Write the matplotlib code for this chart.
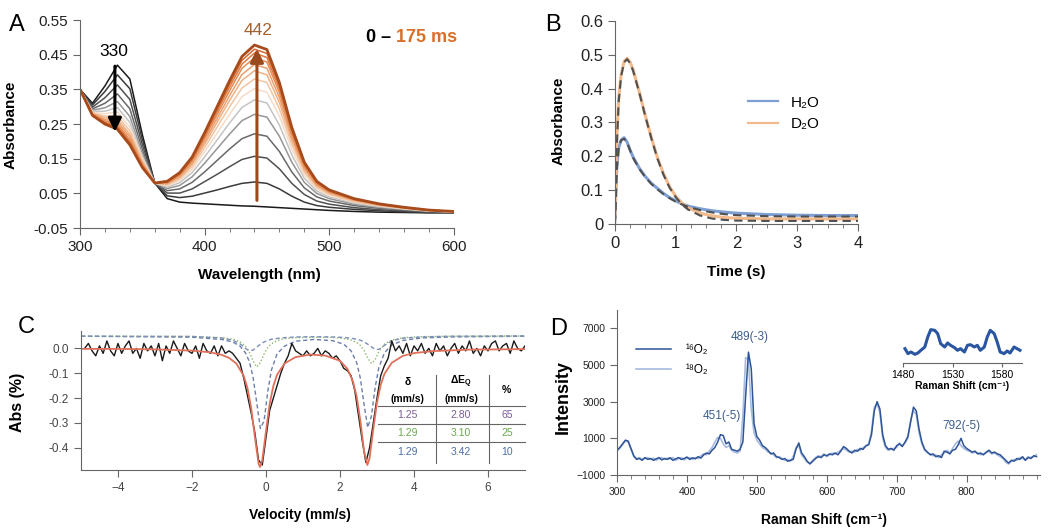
import numpy as np
import matplotlib
matplotlib.use('Agg')
import matplotlib.pyplot as plt
from matplotlib.ticker import MultipleLocator

plt.rcParams['font.family'] = ['Liberation Sans', 'DejaVu Sans']
plt.rcParams['mathtext.fontset'] = 'custom'
plt.rcParams['mathtext.rm'] = 'Liberation Sans'
plt.rcParams['mathtext.bf'] = 'Liberation Sans:bold'

# ---------------- A: UV-vis spectra 0-175 ms ----------------
wavelength = [300, 310, 320, 330, 340, 350, 360, 370, 380, 390, 400, 410, 420,
              430, 440, 450, 460, 470, 480, 490, 500, 520, 540, 560, 580, 600]
spectra = [
    [.350, .310, .360, .420, .380, .220, .080, .035, .025, .022, .020, .018, .016, .014, .013, .011, .009, .007, .005, .003, .001, -.002, -.004, -.005, -.006, -.006],
    [.350, .305, .344, .392, .352, .206, .080, .043, .038, .042, .051, .060, .070, .079, .083, .079, .063, .042, .025, .015, .010, .004, .000, -.003, -.005, -.005],
    [.350, .299, .326, .363, .321, .191, .080, .051, .051, .063, .084, .105, .127, .148, .157, .152, .121, .079, .047, .028, .019, .009, .003, .000, -.004, -.005],
    [.350, .294, .310, .337, .294, .177, .080, .058, .063, .082, .112, .145, .178, .208, .222, .215, .171, .112, .066, .040, .028, .015, .007, .002, -.002, -.004],
    [.350, .290, .297, .315, .272, .166, .080, .064, .073, .098, .137, .179, .221, .260, .278, .270, .215, .140, .082, .050, .035, .019, .010, .004, -.001, -.004],
    [.350, .287, .287, .298, .255, .157, .080, .068, .081, .110, .155, .204, .253, .298, .320, .311, .247, .161, .094, .057, .040, .022, .012, .005, -.001, -.003],
    [.350, .284, .280, .285, .241, .151, .080, .072, .087, .119, .170, .224, .278, .329, .352, .342, .273, .177, .104, .063, .044, .025, .014, .006, .000, -.003],
    [.350, .282, .273, .274, .230, .145, .080, .075, .092, .127, .182, .241, .300, .354, .380, .370, .294, .191, .112, .068, .048, .027, .015, .007, .000, -.003],
    [.350, .281, .268, .265, .220, .140, .080, .077, .096, .134, .192, .255, .318, .376, .404, .392, .312, .203, .118, .072, .051, .029, .016, .008, .001, -.003],
    [.350, .279, .263, .257, .213, .136, .080, .079, .100, .139, .200, .266, .332, .393, .422, .411, .327, .212, .124, .075, .053, .031, .017, .008, .001, -.002],
    [.350, .278, .259, .250, .205, .133, .080, .081, .103, .144, .209, .277, .346, .411, .441, .429, .341, .221, .129, .078, .055, .032, .018, .009, .001, -.002],
    [.350, .277, .255, .244, .199, .130, .080, .083, .106, .148, .215, .286, .357, .423, .455, .442, .352, .228, .133, .081, .057, .033, .019, .009, .002, -.002],
    [.350, .276, .253, .240, .195, .127, .080, .084, .108, .152, .220, .293, .366, .434, .466, .454, .361, .234, .137, .083, .059, .034, .019, .010, .002, -.002],
    [.350, .275, .250, .235, .190, .125, .080, .085, .110, .155, .225, .300, .375, .445, .478, .465, .370, .240, .140, .085, .060, .035, .020, .010, .002, -.002],
]
spectra_colors = ['#1a1a1a', '#3a3a3a', '#505050', '#686868', '#969696', '#c4c4c4',
                  '#f5dcc8', '#f2c5a2', '#efb185', '#eb9f6c', '#e58c54', '#de7a40',
                  '#d26a30', '#a84b1c']

# ---------------- B: kinetics at 442 nm ----------------
time_s = [0, 0.03, 0.06, 0.1, 0.15, 0.2, 0.25, 0.3, 0.4, 0.5, 0.6, 0.7, 0.8, 0.9,
          1.0, 1.1, 1.2, 1.4, 1.6, 1.8, 2.0, 2.5, 3.0, 3.5, 4.0]
h2o = [0.02, 0.17, 0.225, 0.248, 0.255, 0.242, 0.218, 0.197, 0.165, 0.14, 0.12, 0.105, 0.09,
       0.078, 0.068, 0.06, 0.053, 0.045, 0.039, 0.035, 0.032, 0.028, 0.026, 0.025, 0.025]
h2o_fit = [0.0, 0.16, 0.222, 0.247, 0.252, 0.24, 0.217, 0.195, 0.163, 0.138, 0.118, 0.102, 0.088,
           0.076, 0.066, 0.058, 0.051, 0.041, 0.034, 0.029, 0.026, 0.023, 0.022, 0.022, 0.022]
d2o = [0.02, 0.25, 0.37, 0.44, 0.48, 0.49, 0.478, 0.455, 0.39, 0.32, 0.255, 0.195, 0.148,
       0.11, 0.082, 0.062, 0.048, 0.032, 0.024, 0.019, 0.017, 0.015, 0.015, 0.015, 0.015]
d2o_fit = [0.0, 0.23, 0.36, 0.435, 0.478, 0.487, 0.475, 0.452, 0.388, 0.318, 0.252, 0.193, 0.145,
           0.107, 0.079, 0.058, 0.043, 0.025, 0.016, 0.012, 0.010, 0.009, 0.009, 0.009, 0.009]

# ---------------- C: Mossbauer ----------------
vel_start, vel_stop = -4.9, 7.0
moss_data = [
    0.00, 0.02, -0.01, -0.03, 0.01, -0.02, 0.03, -0.01, -0.03, 0.02,
    -0.02, 0.01, 0.03, -0.02, 0.00, -0.04, 0.02, -0.01, 0.01, -0.03,
    0.02, -0.05, 0.01, -0.02, 0.03, 0.00, -0.03, 0.02, -0.01, -0.02,
    0.01, -0.04, 0.02, -0.01, -0.02, 0.01, -0.03, 0.01, -0.02, -0.01,
    -0.02, -0.04, -0.06, -0.12, -0.19, -0.26, -0.34, -0.45, -0.47, -0.36,
    -0.25, -0.20, -0.15, -0.10, -0.06, -0.03, 0.02, -0.01, -0.02, -0.03,
    -0.01, -0.03, -0.02, 0.00, -0.03, -0.01, -0.02, -0.04, -0.03, -0.05,
    -0.08, -0.09, -0.11, -0.17, -0.27, -0.37, -0.46, -0.40, -0.30, -0.20,
    -0.11, -0.07, -0.04, 0.03, -0.01, 0.01, -0.02, 0.02, -0.03, 0.01,
    -0.01, 0.02, -0.02, 0.00, -0.03, 0.02, -0.01, 0.01, -0.03, 0.00,
    0.02, -0.02, 0.01, -0.01, 0.03, -0.02, 0.00, -0.03, 0.01, -0.01,
    0.02, 0.03, -0.01, 0.01, 0.02, -0.02, 0.03, 0.00, -0.01, 0.01,
]
vel_fit = [-5, -4, -3, -2, -1.5, -1.2, -1.0, -0.8, -0.6, -0.5, -0.4, -0.3, -0.2, -0.16, -0.1,
           0.0, 0.1, 0.2, 0.3, 0.5, 0.8, 1.2, 1.6, 2.0, 2.2, 2.35, 2.45, 2.55, 2.65, 2.74,
           2.8, 2.9, 3.0, 3.1, 3.2, 3.4, 3.7, 4.0, 4.5, 5.5, 7.0]
fit_total = [-0.002, -0.002, -0.004, -0.009, -0.016, -0.026, -0.038, -0.061, -0.111, -0.160,
             -0.240, -0.357, -0.465, -0.478, -0.450, -0.334, -0.223, -0.151, -0.106, -0.061,
             -0.035, -0.025, -0.029, -0.050, -0.082, -0.133, -0.193, -0.291, -0.413, -0.470,
             -0.442, -0.326, -0.218, -0.147, -0.103, -0.058, -0.030, -0.019, -0.011, -0.005, -0.003]
vel_comp = [-5, -2, -1.2, -0.9, -0.7, -0.55, -0.45, -0.35, -0.25, -0.15, -0.05, 0.05, 0.15,
            0.3, 0.5, 0.8, 1.3, 1.8, 2.1, 2.3, 2.45, 2.55, 2.65, 2.75, 2.85, 2.95, 3.05,
            3.2, 3.4, 3.7, 4.2, 5, 7]
comp1 = [0.049, 0.045, 0.036, 0.026, 0.009, -0.019, -0.053, -0.115, -0.218, -0.323, -0.291,
         -0.172, -0.086, -0.022, 0.009, 0.029, 0.036, 0.031, 0.017, -0.010, -0.057, -0.120,
         -0.225, -0.319, -0.272, -0.157, -0.078, -0.018, 0.014, 0.032, 0.042, 0.046, 0.049]
comp2 = [0.049, 0.048, 0.043, 0.037, 0.027, 0.008, -0.015, -0.050, -0.075, -0.057, -0.022,
         0.004, 0.019, 0.031, 0.039, 0.043, 0.045, 0.044, 0.040, 0.034, 0.024, 0.012,
         -0.008, -0.039, -0.061, -0.045, -0.014, 0.017, 0.034, 0.043, 0.047, 0.049, 0.050]
comp3 = [0.049, 0.048, 0.042, 0.033, 0.018, -0.001, -0.009, -0.007, 0.005, 0.017, 0.026,
         0.032, 0.037, 0.040, 0.043, 0.046, 0.047, 0.046, 0.044, 0.041, 0.037, 0.033,
         0.026, 0.017, 0.006, -0.004, -0.004, 0.012, 0.030, 0.041, 0.046, 0.049, 0.050]
tab_delta = ['1.25', '1.29', '1.29']
tab_deq = ['2.80', '3.10', '3.42']
tab_pct = ['65', '25', '10']
tab_colors = ['#7b5c98', '#6aa84f', '#4d6fa3']

# ---------------- D: resonance Raman ----------------
raman_start, raman_stop = 300, 900
raman_16 = [
    350, 500, 700, 900, 850, 450, 50, -150, -100, -200,
    -50, -150, -100, -200, -120, -50, -180, -100, -150, -60,
    -200, -120, -50, -150, -100, -20, -150, -60, -120, 0,
    -80, 100, 200, 150, 350, 500, 800, 1200, 1150, 700,
    800, 400, 350, 300, 400, 800, 3300, 5700, 4800, 1800,
    1100, 900, 600, 500, 350, 150, 200, 0, -50, -150,
    -100, -250, -200, -150, 400, 750, 200, 0, -250, -400,
    -250, -100, 0, -50, 100, 50, 150, 100, 200, 100,
    300, 550, 450, 300, 200, 350, 300, 450, 400, 600,
    650, 1200, 2500, 3000, 2600, 1200, 600, 400, 450, 350,
    600, 700, 550, 800, 1100, 1900, 2700, 2500, 1500, 800,
    400, 250, 100, 150, 0, 50, -50, 300, 250, 150,
    350, 400, 650, 1000, 600, 450, 350, 250, 300, 150,
    200, 100, 250, 350, 200, 250, 150, 100, -50, -200,
    -350, -200, -250, -100, -150, 0, -200, -50, -100, 50,
    0,
]
raman_18 = [
    300, 450, 650, 850, 800, 400, 0, -100, -50, -150,
    -100, -50, -150, -80, -200, -100, -50, -150, -80, -120,
    -50, -200, -100, -60, -180, -80, -50, -150, -50, -100,
    50, 150, 100, 300, 500, 800, 1050, 1000, 700, 500,
    600, 350, 250, 200, 300, 2200, 5400, 5300, 2600, 1300,
    900, 700, 500, 400, 250, 200, 100, -50, 0, -100,
    -200, -150, -250, 0, 500, 600, 100, -100, -300, -350,
    -200, -50, 50, 0, 150, 0, 100, 200, 150, 250,
    350, 450, 350, 250, 300, 250, 400, 350, 500, 550,
    700, 1400, 2700, 2900, 2400, 1000, 500, 350, 400, 450,
    500, 750, 600, 750, 1000, 2000, 2500, 2300, 1300, 700,
    350, 200, 150, 50, 100, -50, 100, 200, 350, 200,
    450, 700, 850, 600, 450, 350, 300, 200, 250, 200,
    100, 150, 200, 300, 150, 200, 100, 0, -100, -300,
    -400, -250, -150, -200, -50, -100, -150, 0, -50, 0,
    100,
]
inset_shift = [1482, 1485, 1488, 1492, 1495, 1498, 1502, 1505, 1508, 1512, 1515, 1518,
               1522, 1525, 1528, 1532, 1535, 1538, 1542, 1545, 1548, 1552, 1555, 1558,
               1562, 1565, 1568, 1572, 1575, 1578, 1582, 1585, 1588, 1592, 1595, 1598]
inset_int = [55, 40, 45, 38, 42, 50, 60, 90, 112, 110, 100, 70, 60, 72, 65, 58, 50, 55,
             45, 65, 67, 60, 65, 50, 60, 90, 110, 100, 75, 45, 40, 48, 42, 60, 55, 50]

SPINE = '#666666'


def style_axes(ax, size, labelcolor='#222222'):
    for s in ['top', 'right']:
        ax.spines[s].set_visible(False)
    for s in ['left', 'bottom']:
        ax.spines[s].set_color(SPINE)
    ax.tick_params(which='both', direction='out', color=SPINE, labelsize=size, labelcolor=labelcolor)
    ax.tick_params(which='major', length=5)
    ax.tick_params(which='minor', length=3)


fig = plt.figure(figsize=(10.5, 5.28), dpi=100)

# ---- Panel A ----
axA = fig.add_axes([0.0762, 0.568, 0.356, 0.394])
for k, (vals, col) in enumerate(zip(spectra, spectra_colors)):
    lw = 2.0 if k == len(spectra) - 1 else 1.1
    axA.plot(wavelength, vals, color=col, lw=lw)
axA.set_xlim(300, 600)
axA.set_ylim(-0.05, 0.55)
axA.set_xticks([300, 400, 500, 600])
axA.xaxis.set_minor_locator(MultipleLocator(20))
axA.set_yticks(np.arange(-0.05, 0.56, 0.1))
axA.set_yticklabels(['-0.05', '0.05', '0.15', '0.25', '0.35', '0.45', '0.55'])
style_axes(axA, 11)
axA.set_xlabel('Wavelength (nm)', fontsize=11, fontweight='bold')
axA.set_ylabel('Absorbance', fontsize=11, fontweight='bold')
axA.xaxis.set_label_coords(0.48, -0.19)
axA.yaxis.set_label_coords(-0.166, 0.495)
axA.annotate('', xy=(328, 0.22), xytext=(328, 0.425),
             arrowprops=dict(arrowstyle='-|>', color='black', lw=2.2, mutation_scale=20))
axA.annotate('', xy=(442, 0.475), xytext=(442, 0.022),
             arrowprops=dict(arrowstyle='-|>', color='#9b4a1e', lw=2.2, mutation_scale=20))
axA.text(327, 0.458, '330', fontsize=12.5, ha='center', va='center', color='black')
axA.text(443, 0.52, '442', fontsize=12.5, ha='center', va='center', color='#a5602e')
axA.text(0.845, 0.915, '0 \u2013 ', transform=axA.transAxes, fontsize=13, fontweight='bold',
         ha='right', va='center', color='black')
axA.text(0.845, 0.915, '175 ms', transform=axA.transAxes, fontsize=13, fontweight='bold',
         ha='left', va='center', color='#d9702a')
fig.text(17 / 1050, 1 - 25 / 528, 'A', fontsize=17, ha='center', va='center')

# ---- Panel B ----
axB = fig.add_axes([0.5857, 0.5758, 0.2314, 0.3845])
axB.plot(time_s, h2o, color='#7e9fd4', lw=2.2, label='H\u2082O')
axB.plot(time_s, d2o, color='#f2b98a', lw=2.2, label='D\u2082O')
axB.plot(time_s, h2o_fit, color='#505050', lw=1.5, ls=(0, (4, 2.5)))
axB.plot(time_s, d2o_fit, color='#505050', lw=1.5, ls=(0, (4, 2.5)))
axB.set_xlim(0, 4)
axB.set_ylim(0, 0.6)
axB.set_xticks([0, 1, 2, 3, 4])
axB.xaxis.set_minor_locator(MultipleLocator(0.25))
axB.set_yticks(np.arange(0, 0.61, 0.1))
axB.set_yticklabels(['0', '0.1', '0.2', '0.3', '0.4', '0.5', '0.6'])
style_axes(axB, 12)
axB.set_xlabel('Time (s)', fontsize=11, fontweight='bold')
axB.set_ylabel('Absorbance', fontsize=11, fontweight='bold')
axB.xaxis.set_label_coords(0.50, -0.20)
axB.yaxis.set_label_coords(-0.205, 0.51)
legB = axB.legend(loc='upper left', bbox_to_anchor=(0.49, 0.70), frameon=False, fontsize=11,
                  handlelength=2.0, handletextpad=0.8, labelspacing=0.5)
for line in legB.get_lines():
    line.set_linewidth(1.6)
fig.text(553 / 1050, 1 - 25 / 528, 'B', fontsize=17, ha='center', va='center')

# ---- Panel C ----
axC = fig.add_axes([0.0771, 0.1098, 0.4229, 0.2633])
vel = np.linspace(vel_start, vel_stop, len(moss_data))
axC.plot(vel_comp, comp1, color='#6c7fa8', lw=1.0, ls=(0, (3, 2)))
axC.plot(vel_comp, comp2, color='#8dbb6a', lw=1.0, ls=(0, (1, 1.5)))
axC.plot(vel_comp, comp3, color='#7d8fb8', lw=1.0, ls=(0, (3, 2)))
axC.plot(vel, moss_data, color='#1a1a1a', lw=1.0)
axC.plot(vel_fit, fit_total, color='#e0705a', lw=1.3)
axC.set_xlim(-5, 7)
axC.set_ylim(-0.49, 0.07)
axC.set_xticks([-4, -2, 0, 2, 4, 6])
axC.set_yticks([0.0, -0.1, -0.2, -0.3, -0.4])
axC.set_yticklabels(['0.0', '-0.1', '-0.2', '-0.3', '-0.4'])
style_axes(axC, 8.5, '#444444')
axC.set_xlabel('Velocity (mm/s)', fontsize=10, fontweight='bold')
axC.set_ylabel('Abs (%)', fontsize=11.5, fontweight='bold')
axC.xaxis.set_label_coords(0.493, -0.27)
axC.yaxis.set_label_coords(-0.126, 0.49)
# table
tx = axC.transAxes
for xv in [0.80, 0.919]:
    axC.plot([xv, xv], [0.05, 0.683], color='#666666', lw=0.8, transform=tx, clip_on=False)
for yv in [0.46, 0.331, 0.201]:
    axC.plot([0.669, 1.0], [yv, yv], color='#666666', lw=0.8, transform=tx, clip_on=False)
axC.text(0.736, 0.633, '\u03b4', transform=tx, fontsize=7.5, fontweight='bold', ha='center', va='center')
axC.text(0.736, 0.511, '(mm/s)', transform=tx, fontsize=7.5, fontweight='bold', ha='center', va='center')
axC.text(0.856, 0.633, r'$\mathbf{\Delta E_Q}$', transform=tx, fontsize=7.5, ha='center', va='center')
axC.text(0.856, 0.511, '(mm/s)', transform=tx, fontsize=7.5, fontweight='bold', ha='center', va='center')
axC.text(0.959, 0.575, '%', transform=tx, fontsize=7.5, fontweight='bold', ha='center', va='center')
for yv, d, q, p, c in zip([0.396, 0.266, 0.129], tab_delta, tab_deq, tab_pct, tab_colors):
    axC.text(0.736, yv, d, transform=tx, fontsize=7.5, color=c, ha='center', va='center')
    axC.text(0.856, yv, q, transform=tx, fontsize=7.5, color=c, ha='center', va='center')
    axC.text(0.959, yv, p, transform=tx, fontsize=7.5, color=c, ha='center', va='center')
fig.text(26 / 1050, 1 - 327 / 528, 'C', fontsize=17, ha='center', va='center')

# ---- Panel D ----
axD = fig.add_axes([0.5876, 0.1004, 0.4029, 0.3125])
shift = np.linspace(raman_start, raman_stop, len(raman_16))
axD.plot(shift, raman_18, color='#a7bbe0', lw=1.2, label='\u00b9\u2078O\u2082')
axD.plot(shift, raman_16, color='#2f5496', lw=1.1, label='\u00b9\u2076O\u2082')
axD.set_xlim(300, 905)
axD.set_ylim(-1000, 8000)
axD.set_xticks([300, 400, 500, 600, 700, 800])
axD.xaxis.set_minor_locator(MultipleLocator(20))
axD.set_yticks([-1000, 1000, 3000, 5000, 7000])
style_axes(axD, 7.5)
axD.set_xlabel('Raman Shift (cm\u207b\u00b9)', fontsize=10, fontweight='bold')
axD.set_ylabel('Intensity', fontsize=13, fontweight='bold')
axD.xaxis.set_label_coords(0.49, -0.23)
axD.yaxis.set_label_coords(-0.106, 0.47)
h, l = axD.get_legend_handles_labels()
axD.legend(h[::-1], l[::-1], loc='upper left', bbox_to_anchor=(0.02, 0.86), frameon=False,
           fontsize=8.5, handlelength=3.0, handletextpad=1.2, labelspacing=0.7)
for txt, xv, yv in [('489(-3)', 490, 6500), ('451(-5)', 450, 2200), ('792(-5)', 793, 1650)]:
    axD.text(xv, yv, txt, fontsize=8.5, color='#3d5f8f', ha='center', va='center')
fig.text(559 / 1050, 1 - 329 / 528, 'D', fontsize=17, ha='center', va='center')

axI = fig.add_axes([0.86, 0.3125, 0.1133, 0.0777])
axI.plot(inset_shift, inset_int, color='#2a55a0', lw=2.2)
axI.set_xlim(1480, 1600)
axI.set_ylim(12, 135)
axI.set_xticks([1480, 1530, 1580])
axI.set_yticks([])
for s in ['top', 'right', 'left']:
    axI.spines[s].set_visible(False)
axI.spines['bottom'].set_color(SPINE)
axI.patch.set_alpha(0)
axI.tick_params(direction='out', length=3, color=SPINE, labelsize=7.5, pad=2)
axI.set_xlabel('Raman Shift (cm\u207b\u00b9)', fontsize=7.5, fontweight='bold', labelpad=1)

fig.savefig('out.png', dpi=100)
